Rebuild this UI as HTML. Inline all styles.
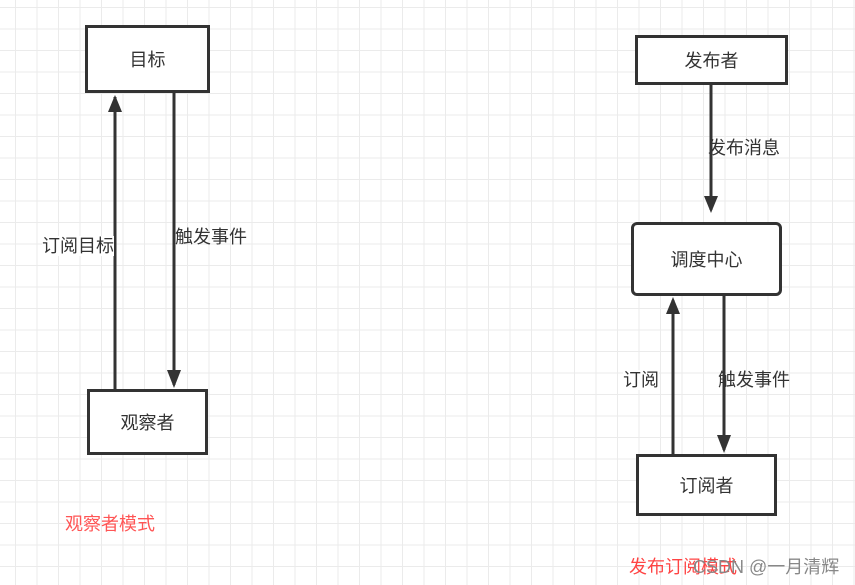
<!DOCTYPE html>
<html><head><meta charset="utf-8"><style>
html,body{margin:0;padding:0}
body{width:855px;height:585px;position:relative;overflow:hidden;background:#fff;
background-image:linear-gradient(#ebebeb 1px,transparent 1px),linear-gradient(90deg,#ebebeb 1px,transparent 1px);
background-size:21.5px 21.5px;background-position:15px 7px;font-family:"Liberation Sans","Noto Sans CJK SC",sans-serif;}
.b{position:absolute;box-sizing:border-box;border:3px solid #333;background:#fff;display:flex;align-items:center;justify-content:center;font-size:18px;color:#333}
.t{position:absolute;font-size:18px;color:#333;line-height:20px;white-space:nowrap}
svg{position:absolute;left:0;top:0}
</style></head><body>
<svg width="855" height="585">
<g stroke="#333" stroke-width="3" fill="none">
<line x1="115" y1="389" x2="115" y2="97"/>
<line x1="174" y1="92" x2="174" y2="385"/>
<line x1="711" y1="84" x2="711" y2="210"/>
<line x1="673" y1="454" x2="673" y2="300"/>
<line x1="724" y1="295" x2="724" y2="450"/>
</g>
<g fill="#333">
<path d="M108,112 L115,95 L122,112Z"/>
<path d="M167,370 L174,388 L181,370Z"/>
<path d="M704,196 L711,213 L718,196Z"/>
<path d="M666,314 L673,297 L680,314Z"/>
<path d="M717,435 L724,453 L731,435Z"/>
</g>
</svg>
<div class="b" style="left:85px;top:25px;width:125px;height:68px">目标</div>
<div class="b" style="left:87px;top:389px;width:121px;height:66px">观察者</div>
<div class="b" style="left:635px;top:35px;width:153px;height:50px">发布者</div>
<div class="b" style="left:631px;top:222px;width:151px;height:74px;border-radius:6px">调度中心</div>
<div class="b" style="left:636px;top:454px;width:141px;height:62px">订阅者</div>
<div class="t" style="left:42px;top:236px;background:#fff">订阅目标</div>
<div class="t" style="left:175px;top:227px">触发事件</div>
<div class="t" style="left:708px;top:138px">发布消息</div>
<div class="t" style="left:623px;top:370px;background:#fff">订阅</div>
<div class="t" style="left:718px;top:370px">触发事件</div>
<div class="t" style="left:65px;top:514px;color:#f55">观察者模式</div>
<div class="t" style="left:629px;top:557px;color:#f44">发布订阅模式</div>
<div class="t" style="left:693px;top:557px;color:#888">CSDN @一月清辉</div>
</body></html>
